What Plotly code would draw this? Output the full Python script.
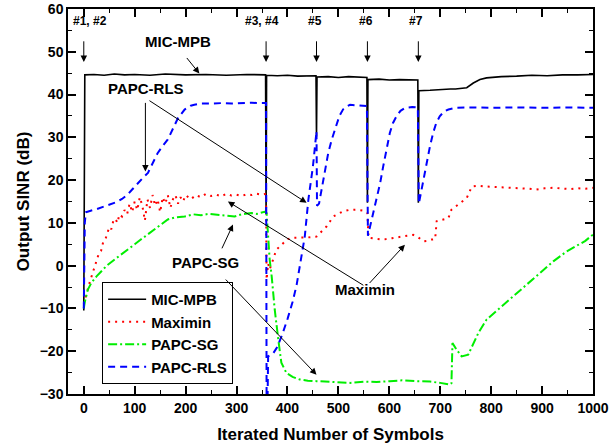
import plotly.graph_objects as go

# ---------------- data ----------------
mic_x = [0, 1, 2, 20, 40, 60, 80, 100, 130, 160, 200, 240, 280, 320, 340, 357, 358, 359,
         380, 400, 420, 440, 456, 457, 458, 480, 500, 520, 540, 556, 557, 558,
         580, 600, 620, 640, 656, 657, 658, 680, 700, 720, 730, 740, 752, 765, 778, 791,
         800, 820, 850, 880, 910, 940, 970, 1000]
mic_y = [-10.5, 44.3, 44.6, 44.7, 44.5, 44.8, 44.6, 44.7, 44.5, 44.8, 44.6, 44.7, 44.5, 44.7, 44.6, 44.6, 12.0, 44.5,
         44.4, 44.5, 44.3, 44.4, 44.4, 30.2, 44.1, 44.2, 44.0, 44.2, 44.1, 44.0, 14.7, 43.5,
         43.6, 43.4, 43.5, 43.5, 43.4, 14.7, 40.9, 41.0, 41.2, 41.3, 41.3, 41.4, 41.6, 42.7, 43.5, 43.9,
         44.0, 44.2, 44.3, 44.5, 44.4, 44.6, 44.6, 44.7]

max_x = [0, 3, 6, 10, 14, 18, 22, 26, 30, 34, 38, 42, 46, 50, 54, 58, 62, 66, 70, 75, 80, 85, 90, 95,
         100, 105, 110, 115, 120, 125, 130, 135, 140, 145, 150, 155, 160, 165, 170, 175, 180, 185, 190, 195,
         200, 210, 220, 230, 240, 250, 260, 270, 280, 290, 300, 310, 320, 330, 340, 350, 358, 359, 362, 365,
         372, 378, 385, 392, 400, 410, 424, 440, 457, 467, 477, 490, 500, 509, 520, 536, 552, 557, 559, 570,
         588, 605, 621, 635, 647, 657, 667, 675, 683, 690, 693, 706, 716, 722, 730, 740, 752, 762, 775, 790,
         805, 824, 840, 857, 873, 889, 905, 922, 940, 955, 970, 985, 1000]
max_y = [-9.0, -7.5, -6.0, -4.5, -3.0, -1.5, 0.5, 1.5, 3.0, 3.5, 5.5, 6.0, 7.5, 9.0, 8.5, 10.5, 11.0, 10.0, 12.0, 11.5, 13.0, 12.0, 14.5, 12.5,
         15.0, 13.0, 16.0, 14.0, 10.5, 15.5, 13.5, 16.5, 14.0, 15.5, 12.5, 16.0, 14.5, 16.5, 13.5, 15.5, 16.5, 14.5, 16.0, 15.0,
         16.5, 15.5, 16.5, 16.0, 16.8, 16.3, 16.6, 16.2, 16.8, 16.4, 16.6, 16.3, 16.7, 16.5, 16.8, 16.6, 16.8, -3.3, 0.5, -0.9,
         1.5, 3.7, 4.5, 5.3, 6.2, 6.5, 6.5, 6.6, 6.8, 8.0, 9.2, 11.5, 12.2, 12.7, 13.0, 13.1, 12.8, 12.3, 6.5, 6.3,
         6.1, 6.4, 6.8, 7.0, 7.2, 6.6, 5.7, 5.8, 6.1, 6.2, 10.4, 10.7, 11.1, 13.1, 13.8, 14.7, 15.8, 18.5, 18.7, 18.5,
         18.4, 18.4, 18.2, 18.2, 18.0, 17.8, 18.1, 18.2, 18.0, 17.9, 18.1, 18.0, 18.2]

sg_x = [0, 2, 8, 15, 25, 34, 45, 60, 73, 86, 100, 112, 125, 139, 150, 165, 180, 198, 215, 230, 245, 263,
        280, 296, 310, 329, 340, 348, 355, 359, 362, 365, 369, 375, 382, 388, 398, 410, 424, 440, 457, 480,
        500, 523, 550, 575, 601, 625, 654, 680, 700, 715, 719, 722, 724, 732, 742, 755, 765, 775, 791, 817,
        843, 870, 896, 922, 948, 962, 974, 985, 997, 1000]
sg_y = [-10.0, -8.5, -5.6, -4.0, -2.5, -1.3, 0.0, 1.4, 2.5, 3.7, 5.0, 6.1, 7.3, 8.4, 9.5, 10.8, 11.3, 11.5, 12.0, 11.8, 12.1, 11.9,
        11.7, 11.5, 12.0, 12.3, 12.1, 12.3, 12.6, 12.3, 6.1, 1.5, -2.5, -10.3, -17.3, -22.7, -25.1, -26.0, -26.6, -26.9, -27.0, -27.1,
        -27.2, -27.4, -27.1, -27.2, -27.0, -26.8, -27.0, -27.1, -27.4, -27.6, -27.8, -27.5, -18.1, -19.6, -21.2, -20.8, -18.1, -15.7, -12.6, -9.9,
        -7.2, -4.4, -1.7, 1.0, 3.3, 4.2, 4.9, 5.8, 7.0, 7.2]

rls_x = [0, 2, 4, 8, 15, 25, 35, 45, 55, 65, 75, 86, 95, 106, 116, 126, 135, 145, 155, 165, 175, 185, 198,
         210, 217, 230, 250, 270, 290, 310, 330, 345, 358, 359, 361, 362, 372, 380, 390, 400, 410, 418, 424,
         429, 434, 441, 450, 457, 458, 462, 466, 473, 480, 487, 495, 502, 509, 516, 523, 540, 556, 558, 563,
         570, 575, 582, 588, 595, 601, 607, 614, 622, 631, 645, 656, 658, 665, 673, 680, 686, 692, 699, 707,
         716, 730, 760, 800, 850, 900, 950, 1000]
rls_y = [-10.0, 10.0, 12.5, 12.7, 12.9, 13.2, 13.6, 14.0, 14.4, 14.9, 15.6, 16.6, 17.8, 19.3, 20.5, 21.7, 23.8, 26.3, 28.0, 29.5, 32.0, 34.5, 36.5,
         37.4, 37.6, 37.9, 37.9, 38.0, 37.9, 38.0, 38.1, 38.0, 38.0, -31.0, -30.5, -21.2, -20.5, -19.0, -16.0, -12.5, -8.5, -4.5, -0.5,
         3.5, 6.8, 15.4, 23.2, 31.4, 14.0, 14.5, 17.2, 22.4, 26.3, 29.5, 32.5, 35.0, 36.5, 37.2, 37.6, 37.5, 37.3, 7.0, 9.5,
         13.0, 15.4, 19.3, 23.2, 27.5, 31.0, 33.3, 34.9, 36.2, 36.9, 37.1, 37.0, 14.5, 19.0, 24.0, 28.0, 31.0, 33.3, 34.9, 36.0,
         36.5, 36.9, 37.0, 36.9, 37.0, 36.9, 37.0, 36.9]

x_ticks = [0, 100, 200, 300, 400, 500, 600, 700, 800, 900, 1000]
y_ticks = [-30, -20, -10, 0, 10, 20, 30, 40, 50, 60]

# ---------------- figure ----------------
FONT = "Arial, 'Liberation Sans', sans-serif"
fig = go.Figure()
fig.add_trace(go.Scatter(x=mic_x, y=mic_y, mode="lines", name="MIC-MPB",
                         line=dict(color="black", width=1.6)))
fig.add_trace(go.Scatter(x=max_x, y=max_y, mode="lines", name="Maximin",
                         line=dict(color="#ff0000", width=2, dash="2px,5px")))
fig.add_trace(go.Scatter(x=sg_x, y=sg_y, mode="lines", name="PAPC-SG",
                         line=dict(color="#00ee00", width=2, dash="9px,3px,2px,3px")))
fig.add_trace(go.Scatter(x=rls_x, y=rls_y, mode="lines", name="PAPC-RLS",
                         line=dict(color="#0000ff", width=2, dash="7px,5px")))

def arrow(tail, head):
    fig.add_annotation(x=head[0], y=head[1], ax=tail[0], ay=tail[1],
                       xref="x", yref="y", axref="x", ayref="y", text="",
                       showarrow=True, arrowhead=2, arrowsize=1.3,
                       arrowwidth=1, arrowcolor="black")

def label(x, y, t, size=15):
    fig.add_annotation(x=x, y=y, xref="x", yref="y", text=t, showarrow=False,
                       font=dict(family=FONT, size=size, color="black", weight="bold"))

for xv, t, lx in [(0, "#1, #2", 12.8), (358, "#3, #4", 350.7), (457, "#5", 453.8),
                  (557, "#6", 554), (657, "#7", 651.7)]:
    arrow((xv, 52.8), (xv, 47.6))
    label(lx, 57.1, t, size=12)

label(184.7, 52.3, "MIC-MPB")
arrow((200, 48.9), (227, 44.9))
label(121.8, 41.5, "PAPC-RLS")
arrow((121, 38.4), (121, 22.0))
arrow((126, 38.8), (437.5, 14.7))
label(238.7, 0.8, "PAPC-SG")
arrow((270, 3.7), (293, 9.6))
arrow((276, -2.9), (457, -25.5))
label(552, -5.6, "Maximin")
arrow((558.6, -4.4), (630.6, 4.9))
arrow((552, -4.8), (283, 15))

axis_common = dict(showline=True, linecolor="black", linewidth=1.5, mirror="allticks",
                   ticks="inside", ticklen=8, tickwidth=1.5, tickcolor="black",
                   showgrid=False, zeroline=False, automargin=False,
                   tickfont=dict(family=FONT, size=14, color="black", weight="bold"))

fig.update_xaxes(range=[-31, 1000], tickvals=x_ticks, **axis_common,
                 minor=dict(ticks="inside", ticklen=4, tickwidth=1.2, tickcolor="black", dtick=50, tick0=0, showgrid=False),
                 title=dict(text="Iterated Number of Symbols", standoff=14,
                            font=dict(family=FONT, size=17, color="black", weight="bold")))
fig.update_yaxes(range=[-30, 60], tickvals=y_ticks, **axis_common,
                 minor=dict(ticks="inside", ticklen=4, tickwidth=1.2, tickcolor="black", dtick=5, tick0=0, showgrid=False),
                 title=dict(text="Output SINR (dB)", standoff=6,
                            font=dict(family=FONT, size=17, color="black", weight="bold")))

fig.update_layout(width=610, height=446, margin=dict(l=68, r=17, t=9, b=52),
                  plot_bgcolor="white", paper_bgcolor="white",
                  legend=dict(x=0.065, y=0.291, xanchor="left", yanchor="top",
                              bordercolor="black", borderwidth=1, bgcolor="white",
                              font=dict(family=FONT, size=15, color="black", weight="bold"),
                              tracegroupgap=0, itemwidth=38))

fig.write_html("out.html")
